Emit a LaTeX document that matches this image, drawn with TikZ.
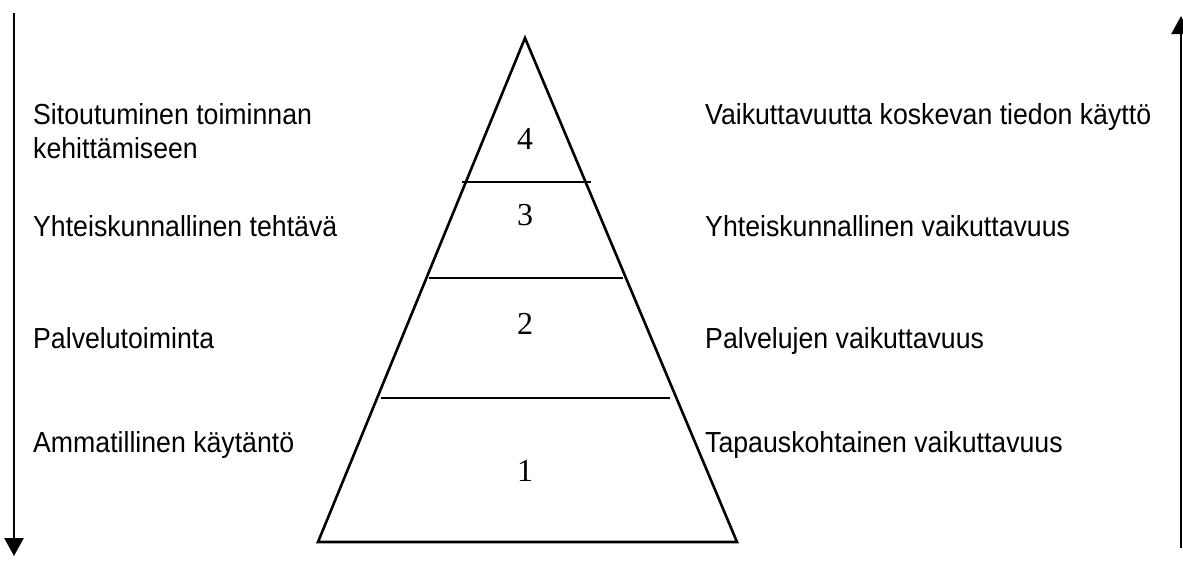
\documentclass[tikz,border=0pt]{standalone}
\usepackage{fontspec}
\setmainfont{Liberation Sans}[FakeStretch=0.92]
\newfontfamily\numfont{Liberation Serif}
\usetikzlibrary{arrows.meta}
\begin{document}
\begin{tikzpicture}[x=1pt,y=-1pt,
  lbl/.style={anchor=base west,inner sep=0pt,font=\fontsize{29}{34}\selectfont},
  num/.style={anchor=base,inner sep=0pt,font=\numfont\fontsize{32}{36}\selectfont},
  ln/.style={line width=2.6pt},
  arr/.style={line width=2.6pt,-{Triangle[width=19pt,length=18pt]}}]
\useasboundingbox (0,0) rectangle (1183,562);
% pyramid
\coordinate (apex) at (525,38);
\coordinate (bl) at (318,542);
\coordinate (br) at (737,542);
\draw[ln,line join=miter] (apex) -- (bl) -- (br) -- cycle;
\coordinate (a4l) at (462,182); \coordinate (a4r) at (591,182);
\coordinate (a3l) at (429,278); \coordinate (a3r) at (623,278);
\coordinate (a2l) at (381,398); \coordinate (a2r) at (670,398);
\draw[ln] (a4l) -- (a4r);
\draw[ln] (a3l) -- (a3r);
\draw[ln] (a2l) -- (a2r);
\node[num] (n4) at (525,149) {4};
\node[num] (n3) at (525,225) {3};
\node[num] (n2) at (525,334) {2};
\node[num] (n1) at (525,481) {1};
% arrows
\coordinate (ls) at (14,13); \coordinate (le) at (14,556);
\coordinate (rs) at (1181,548); \coordinate (re) at (1181,16);
\draw[arr] (ls) -- (le);
\draw[arr] (rs) -- (re);
% left labels
\node[lbl] (l4a) at (33,124) {Sitoutuminen toiminnan};
\node[lbl] (l4b) at (33,158) {kehittämiseen};
\node[lbl] (l3) at (33,236) {Yhteiskunnallinen tehtävä};
\node[lbl] (l2) at (33,348) {Palvelutoiminta};
\node[lbl] (l1) at (33,452) {Ammatillinen käytäntö};
% right labels
\node[lbl] (r4) at (705,124) {Vaikuttavuutta koskevan tiedon käyttö};
\node[lbl] (r3) at (705,236) {Yhteiskunnallinen vaikuttavuus};
\node[lbl] (r2) at (705,348) {Palvelujen vaikuttavuus};
\node[lbl] (r1) at (705,452) {Tapauskohtainen vaikuttavuus};
\end{tikzpicture}
\end{document}
